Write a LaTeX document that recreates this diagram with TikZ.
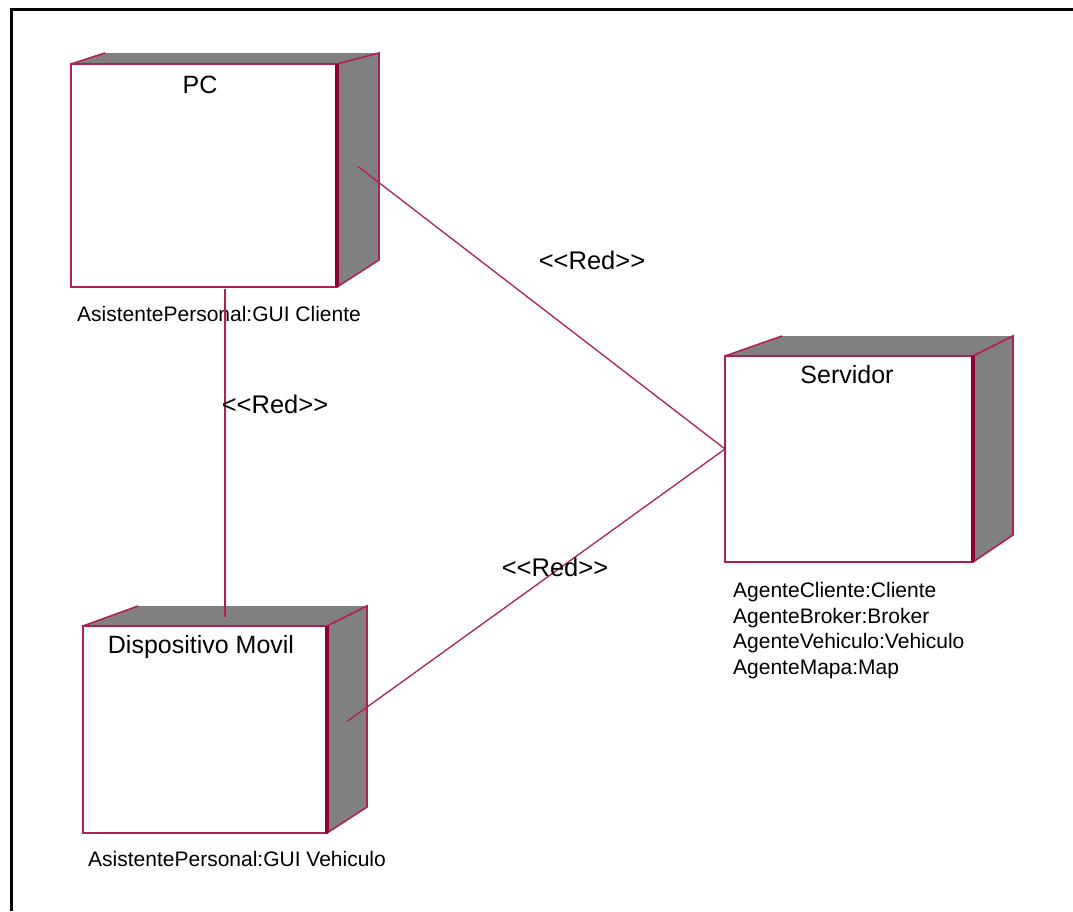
\documentclass[tikz,border=0pt]{standalone}
\usepackage{fontspec}
\setmainfont{Liberation Sans}
\usetikzlibrary{calc}
\definecolor{roseline}{RGB}{176,32,88}
\definecolor{rosedark}{RGB}{145,0,52}
\definecolor{sidegray}{RGB}{128,128,128}
% <<...>> without the tex-text guillemet mapping
\newcommand{\stereotype}[1]{<\kern0pt<#1>\kern0pt>}

\begin{document}
\begin{tikzpicture}[x=1pt, y=-1pt,
    front/.style={draw=roseline, line width=2pt, fill=white, inner sep=0pt, outer sep=0pt, anchor=north west},
    depth/.style={fill=sidegray},
    outline/.style={draw=roseline, line width=1.6pt},
    thickedge/.style={draw=rosedark, line width=4pt},
    link/.style={draw=roseline, line width=1.3pt},
    title/.style={font=\fontsize{25}{30}\selectfont, anchor=base},
    caption/.style={font=\fontsize{21}{25.7}\selectfont, anchor=north west, align=left, inner sep=0pt},
    stereo/.style={font=\fontsize{25.5}{30}\selectfont, inner sep=0pt}
  ]
    \useasboundingbox (0,0) rectangle (1073,911);
    \fill[white] (0,0) rectangle (1073,911);
    \draw[line width=3pt] (11,911) -- (11,9) -- (1073,9);

    % PC
    \node[front, minimum width=266pt, minimum height=223pt] (pc) at (71,64) {};
    \fill[depth] (pc.north west) -- ++(34,-11) -- ++(274,0) -- ++(0,207) -- (pc.south east) -- (pc.north east) -- cycle;
    \draw[outline] (pc.north west) -- ++(34,-11) (pc.north west) -- (pc.north east) -- ++(42,-11) -- ++(0,207) -- (pc.south east);
    \draw[thickedge] (pc.north east) -- (pc.south east);
    \node[title] (pctitle) at ($(pc.north)+(-4,29)$) {PC};
    \node[caption] (pcinfo) at ($(pc.south west)+(6,19)$) {AsistentePersonal:GUI Cliente};

    % Dispositivo Movil
    \node[front, minimum width=244pt, minimum height=207pt] (mov) at (83,626) {};
    \fill[depth] (mov.north west) -- ++(55,-20) -- ++(229,0) -- ++(0,201) -- (mov.south east) -- (mov.north east) -- cycle;
    \draw[outline] (mov.north west) -- ++(55,-20) (mov.north west) -- (mov.north east) -- ++(40,-20) -- ++(0,201) -- (mov.south east);
    \draw[thickedge] (mov.north east) -- (mov.south east);
    \node[title] (movtitle) at ($(mov.north)+(-4,27)$) {Dispositivo Movil};
    \node[caption] (movinfo) at ($(mov.south west)+(5,18)$) {AsistentePersonal:GUI Vehiculo};

    % Servidor
    \node[front, minimum width=248pt, minimum height=206pt] (srv) at (725,356) {};
    \fill[depth] (srv.north west) -- ++(57,-20) -- ++(231,0) -- ++(0,199) -- (srv.south east) -- (srv.north east) -- cycle;
    \draw[outline] (srv.north west) -- ++(57,-20) (srv.north west) -- (srv.north east) -- ++(40,-20) -- ++(0,199) -- (srv.south east);
    \draw[thickedge] (srv.north east) -- (srv.south east);
    \node[title] (srvtitle) at ($(srv.north)+(-2,27)$) {Servidor};
    \node[caption] (srvinfo) at ($(srv.south west)+(8,20)$) {AgenteCliente:Cliente\\AgenteBroker:Broker\\AgenteVehiculo:Vehiculo\\AgenteMapa:Map};

    % network links
    \coordinate (pcport) at ($(pc.east)+(21,-9)$);
    \coordinate (movport) at ($(mov.east)+(20,-8)$);
    \coordinate (srvport) at ($(srv.west)+(0,-10)$);
    \draw[link] (pcport) -- (srvport);
    \draw[link] (movport) -- (srvport);
    \draw[link] ($(pc.south)+(21,2)$) -- ($(mov.north)+(20,-9)$);

    \node[stereo] (red1) at (592,260) {\stereotype{Red}};
    \node[stereo] (red2) at (275,404) {\stereotype{Red}};
    \node[stereo] (red3) at (555,567) {\stereotype{Red}};
  \end{tikzpicture}
\end{document}
